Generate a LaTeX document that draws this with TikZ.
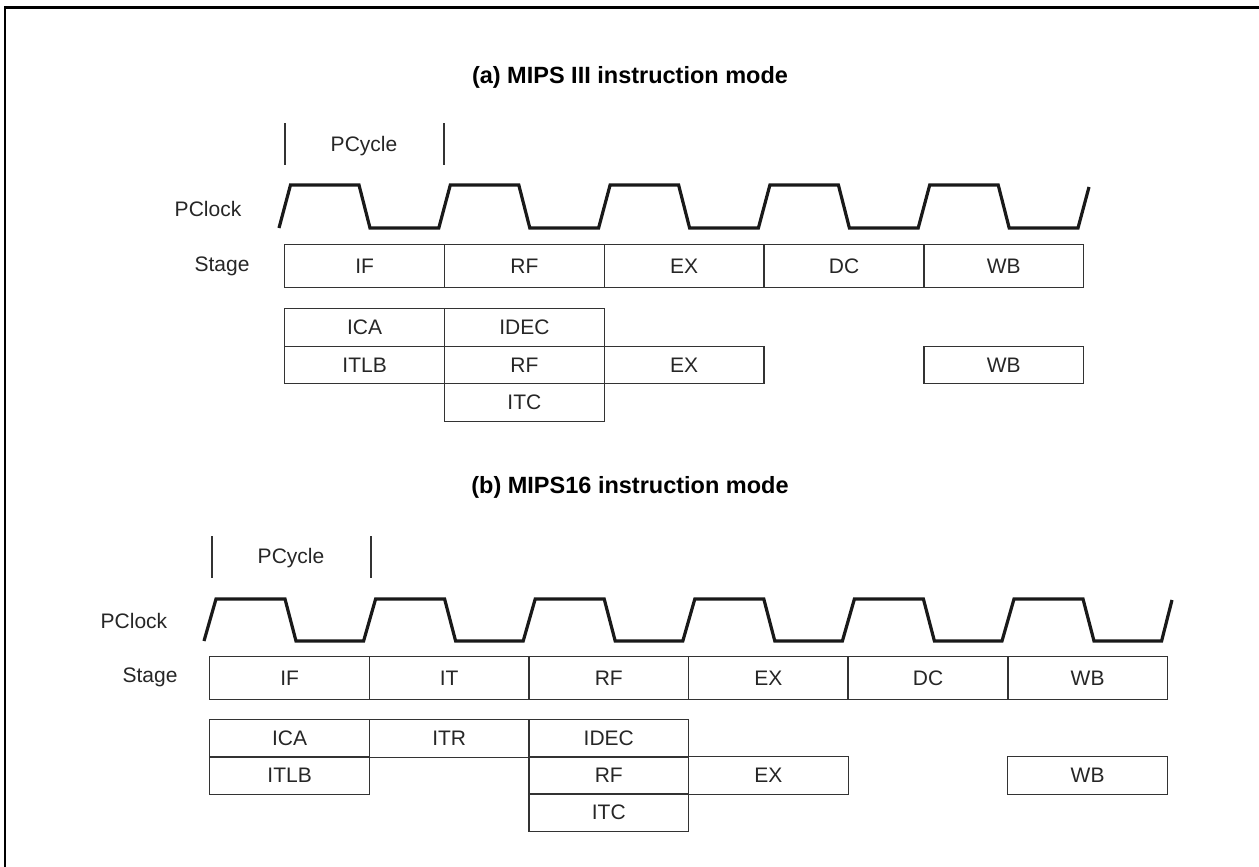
\documentclass[tikz,border=0pt]{standalone}
\usepackage{fontspec}
\setmainfont{Liberation Sans}
\begin{document}
\begin{tikzpicture}[x=1pt,y=-1pt,
  txt/.style={font=\fontsize{21}{25}\selectfont, text=black!85},
  cell/.style={draw=black!80, line width=1.4pt, minimum width=159.8pt, minimum height=43pt, inner sep=0pt, anchor=north west, txt},
  sub/.style={cell, minimum height=37.5pt},
  ttl/.style={font=\bfseries\fontsize{23.5}{28}\selectfont},
  clk/.style={line width=3.2pt, line join=miter, draw=black!90},
  tick/.style={line width=1.2pt, draw=black!80}]
\useasboundingbox (0,0) rectangle (1259,867);
\draw[line width=2.6pt] (5,867) -- (5,7.5) -- (1259,7.5);

% ---------- (a) ----------
\node[ttl] (ta) at (630,77) {(a) MIPS III instruction mode};
\coordinate (pa1) at (285,123);
\coordinate (pa2) at (444,123);
\draw[tick] (pa1) -- ++(0,42);
\draw[tick] (pa2) -- ++(0,42);
\node[txt] (pca) at (364,146) {PCycle};
\node[txt] (pclka) at (208,209) {PClock};
\node[txt] (stga) at (222,266) {Stage};
\draw[clk] (279,228) foreach \i in {0,...,4}{ -- ({290.5+159.8*\i},185) -- ({359+159.8*\i},185) -- ({370+159.8*\i},228) -- ({438.8+159.8*\i},228)} -- (1089,187);

\node[cell] (aif) at (284,244) {IF};
\node[cell] (arf) at (443.8,244) {RF};
\node[cell] (aex) at (603.6,244) {EX};
\node[cell] (adc) at (763.4,244) {DC};
\node[cell] (awb) at (923.2,244) {WB};

\node[sub] (aica) at (284,308) {ICA};
\node[sub] (aitlb) at (284,345.5) {ITLB};
\node[sub] (aidec) at (443.8,308) {IDEC};
\node[sub] (arf2) at (443.8,345.5) {RF};
\node[sub] (aitc) at (443.8,383) {ITC};
\node[sub] (aex2) at (603.6,345.5) {EX};
\node[sub] (awb2) at (923.2,345.5) {WB};

% ---------- (b) ----------
\node[ttl] (tb) at (630,487) {(b) MIPS16 instruction mode};
\coordinate (pb1) at (212,536);
\coordinate (pb2) at (371,536);
\draw[tick] (pb1) -- ++(0,42);
\draw[tick] (pb2) -- ++(0,42);
\node[txt] (pcb) at (291,558) {PCycle};
\node[txt] (pclkb) at (134,621) {PClock};
\node[txt] (stgb) at (150,677) {Stage};
\draw[clk] (204,641) foreach \i in {0,...,5}{ -- ({216+159.6*\i},599) -- ({285+159.6*\i},599) -- ({296+159.6*\i},641) -- ({363.6+159.6*\i},641)} -- (1172,600);

\node[cell] (bif) at (209,656) {IF};
\node[cell] (bit) at (368.6,656) {IT};
\node[cell] (brf) at (528.2,656) {RF};
\node[cell] (bex) at (687.8,656) {EX};
\node[cell] (bdc) at (847.4,656) {DC};
\node[cell] (bwb) at (1007,656) {WB};

\node[sub] (bica) at (209,719) {ICA};
\node[sub] (bitlb) at (209,756) {ITLB};
\node[sub] (bitr) at (368.6,719) {ITR};
\node[sub] (bidec) at (528.2,719) {IDEC};
\node[sub] (brf2) at (528.2,756) {RF};
\node[sub] (bitc) at (528.2,793) {ITC};
\node[sub] (bex2) at (687.8,756) {EX};
\node[sub] (bwb2) at (1007,756) {WB};
\end{tikzpicture}
\end{document}
